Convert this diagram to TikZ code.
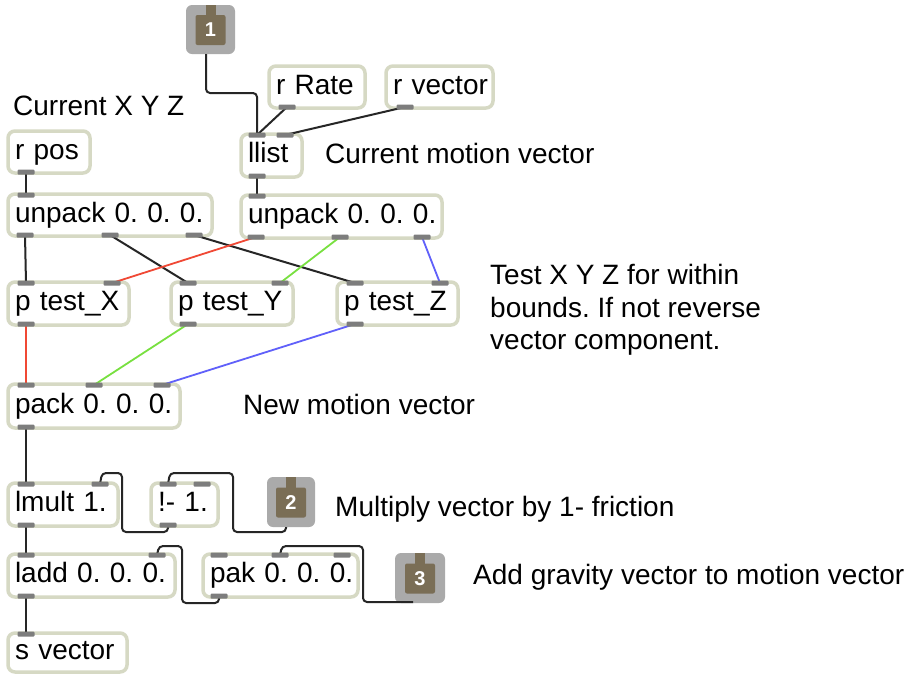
\documentclass[tikz,border=0pt]{standalone}
\usepackage{fontspec}
\setmainfont{Liberation Sans}
\definecolor{boxborder}{RGB}{214,217,196}
\definecolor{portgray}{RGB}{125,125,125}
\definecolor{inletgray}{RGB}{170,170,170}
\definecolor{inletbrown}{RGB}{122,110,86}
\definecolor{cordred}{RGB}{240,72,52}
\definecolor{cordgreen}{RGB}{120,224,64}
\definecolor{cordblue}{RGB}{96,96,250}
\newcommand\maxobj[6]{%
  \pgfmathsetmacro\mxw{#4-#2}%
  \pgfmathsetmacro\mxh{#5-#3}%
  \pgfmathsetmacro\mxtw{#4-#2-14}%
  \node[obj, minimum width=\mxw pt, minimum height=\mxh pt, text width=\mxtw pt] (#1) at ({(#2+#4)/2},{(#3+#5)/2}) {\mbox{#6}};}
\newcommand\maxinlet[6]{% name x1 y1 x2 y2 number
  \node[inletouter, minimum width={(#4-#2)*1pt}, minimum height={(#5-#3)*1pt}] (#1) at ({(#2+#4)/2},{(#3+#5)/2}) {};
  \node[inletinner] (#1n) at ({(#2+#4)/2},{(#3+#5)/2+0.5}) {#6};
  \fill[inletbrown] ({(#2+#4)/2-5},#3) rectangle ({(#2+#4)/2+5},{#3+11});}
\begin{document}
\frenchspacing
\begin{tikzpicture}[x=1pt,y=-1pt,
  obj/.style={draw=boxborder, line width=3.5pt, rounded corners=7pt, fill=white,
    inner xsep=7pt, inner ysep=0pt, align=left, text height=20pt, text depth=6pt,
    font=\fontsize{28}{33}\selectfont},
  port/.style={fill=portgray, minimum width=17pt, minimum height=5pt, inner sep=0pt, rounded corners=1pt},
  inletouter/.style={fill=inletgray, rounded corners=6pt, inner sep=0pt},
  inletinner/.style={fill=inletbrown, minimum width=30pt, minimum height=30pt, inner sep=0pt,
    rounded corners=2pt, text=white, font=\bfseries\fontsize{20}{20}\selectfont},
  cord/.style={line width=2pt, draw=black!85, rounded corners=4pt},
  ccord/.style={line width=1.8pt},
  comment/.style={anchor=base west, inner sep=0pt, font=\fontsize{28}{32.5}\selectfont}
]
\useasboundingbox[fill=white] (0,0) rectangle (908,673);

% comments
\node[comment] (c1) at (13,115) {Current X Y Z};
\node[comment] (c2) at (325,163) {Current motion vector};
\node[comment, anchor=north west, align=left] (c3) at (490,264.5) {Test X Y Z for within\\bounds. If not reverse\\vector component.};
\node[comment] (c4) at (243,414) {New motion vector};
\node[comment] (c5) at (335,516) {Multiply vector by 1- friction};
\node[comment] (c6) at (473,584) {Add gravity vector to motion vector};

% objects
\maxobj{rRate}{269}{66}{365}{108}{r Rate}
\maxobj{rvector}{386}{66}{493}{108}{r vector}
\maxobj{rpos}{8}{131}{90}{173}{r pos}
\maxobj{llist}{241}{134}{302}{177}{llist}
\maxobj{unpL}{8}{194}{212}{236}{unpack 0. 0. 0.}
\maxobj{unpR}{241}{195}{442}{238}{unpack 0. 0. 0.}
\maxobj{testX}{8}{282}{129}{325}{p test\_X}
\maxobj{testY}{171}{282}{293}{325}{p test\_Y}
\maxobj{testZ}{337}{282}{458}{325}{p test\_Z}
\maxobj{pack}{8}{384}{180}{428}{pack 0. 0. 0.}
\maxobj{lmult}{8}{483}{118}{526}{lmult 1.}
\maxobj{minus}{151}{483}{218}{526}{!- 1.}
\maxobj{ladd}{8}{554}{175}{597}{ladd 0. 0. 0.}
\maxobj{pak}{203}{554}{358}{597}{pak 0. 0. 0.}
\maxobj{svector}{8}{633}{127}{672}{s vector}

% inlets
\maxinlet{in1}{186}{5}{235}{54}{1}
\maxinlet{in2}{267}{477}{315}{527}{2}
\maxinlet{in3}{395}{553}{445}{603}{3}
\coordinate (in1-o) at (206,54);
\coordinate (in2-o) at (286,527);
\coordinate (in3-o) at (413,602);

% port positions
\coordinate (rRate-o) at (287,107);
\coordinate (rvector-o) at (405,107);
\coordinate (rpos-o) at (26,172);
\coordinate (llist-i0) at (257,135);
\coordinate (llist-i1) at (285,135);
\coordinate (llist-o) at (257,176);
\coordinate (unpL-i) at (26,195);
\coordinate (unpL-o0) at (25,235);
\coordinate (unpL-o1) at (110,235);
\coordinate (unpL-o2) at (194,235);
\coordinate (unpR-i) at (257,196);
\coordinate (unpR-o0) at (256,237);
\coordinate (unpR-o1) at (340,237);
\coordinate (unpR-o2) at (422,237);
\coordinate (testX-i0) at (26,283);
\coordinate (testX-i1) at (112,283);
\coordinate (testX-o) at (26,324);
\coordinate (testY-i0) at (188,283);
\coordinate (testY-i1) at (280,283);
\coordinate (testY-o) at (188,324);
\coordinate (testZ-i0) at (355,283);
\coordinate (testZ-i1) at (440,283);
\coordinate (testZ-o) at (355,324);
\coordinate (pack-i0) at (26,385);
\coordinate (pack-i1) at (94,385);
\coordinate (pack-i2) at (162,385);
\coordinate (pack-o) at (26,427);
\coordinate (lmult-i0) at (26,484);
\coordinate (lmult-i1) at (100,484);
\coordinate (lmult-o) at (26,525);
\coordinate (minus-i0) at (168,484);
\coordinate (minus-i1) at (202,484);
\coordinate (minus-o) at (168,525);
\coordinate (ladd-i0) at (26,555);
\coordinate (ladd-i1) at (157,555);
\coordinate (ladd-o) at (26,596);
\coordinate (pak-i0) at (219,555);
\coordinate (pak-i1) at (280,555);
\coordinate (pak-i2) at (342,555);
\coordinate (pak-o) at (219,596);
\coordinate (svector-i) at (26,634);

% cords
\draw[cord] (in1-o) -- (206,93) -- (257,93) -- (llist-i0);
\draw[cord] (rRate-o) -- (llist-i0);
\draw[cord] (rvector-o) -- (llist-i1);
\draw[cord] (rpos-o) -- (unpL-i);
\draw[cord] (llist-o) -- (unpR-i);
\draw[cord] (unpL-o0) -- (testX-i0);
\draw[cord] (unpL-o1) -- (testY-i0);
\draw[cord] (unpL-o2) -- (testZ-i0);
\draw[ccord, cordred] (unpR-o0) -- (testX-i1);
\draw[ccord, cordgreen] (unpR-o1) -- (testY-i1);
\draw[ccord, cordblue] (unpR-o2) -- (testZ-i1);
\draw[ccord, cordred] (testX-o) -- (pack-i0);
\draw[ccord, cordgreen] (testY-o) -- (pack-i1);
\draw[ccord, cordblue] (testZ-o) -- (pack-i2);
\draw[cord] (pack-o) -- (lmult-i0);
\draw[cord] (lmult-o) -- (ladd-i0);
\draw[cord] (ladd-o) -- (svector-i);
\draw[cord] (minus-o) -- (168,532) -- (122,532) -- (122,473) -- (102,473) -- (lmult-i1);
\draw[cord] (in2-o) -- (286,532) -- (233,532) -- (233,473) -- (170,473) -- (minus-i0);
\draw[cord] (pak-o) -- (219,603) -- (182,603) -- (182,546) -- (159,546) -- (ladd-i1);
\draw[cord] (in3-o) -- (363,602) -- (363,546) -- (282,546) -- (pak-i1);

% ports
\foreach \p in {rRate-o,rvector-o,rpos-o,llist-i0,llist-i1,llist-o,unpL-i,unpL-o0,unpL-o1,unpL-o2,
  unpR-i,unpR-o0,unpR-o1,unpR-o2,testX-i0,testX-i1,testX-o,testY-i0,testY-i1,testY-o,
  testZ-i0,testZ-i1,testZ-o,pack-i0,pack-i1,pack-i2,pack-o,lmult-i0,lmult-i1,lmult-o,
  minus-i0,minus-i1,minus-o,ladd-i0,ladd-i1,ladd-o,pak-i0,pak-i1,pak-i2,pak-o,svector-i}
  \node[port] (\p-tab) at (\p) {};
\end{tikzpicture}
\end{document}
